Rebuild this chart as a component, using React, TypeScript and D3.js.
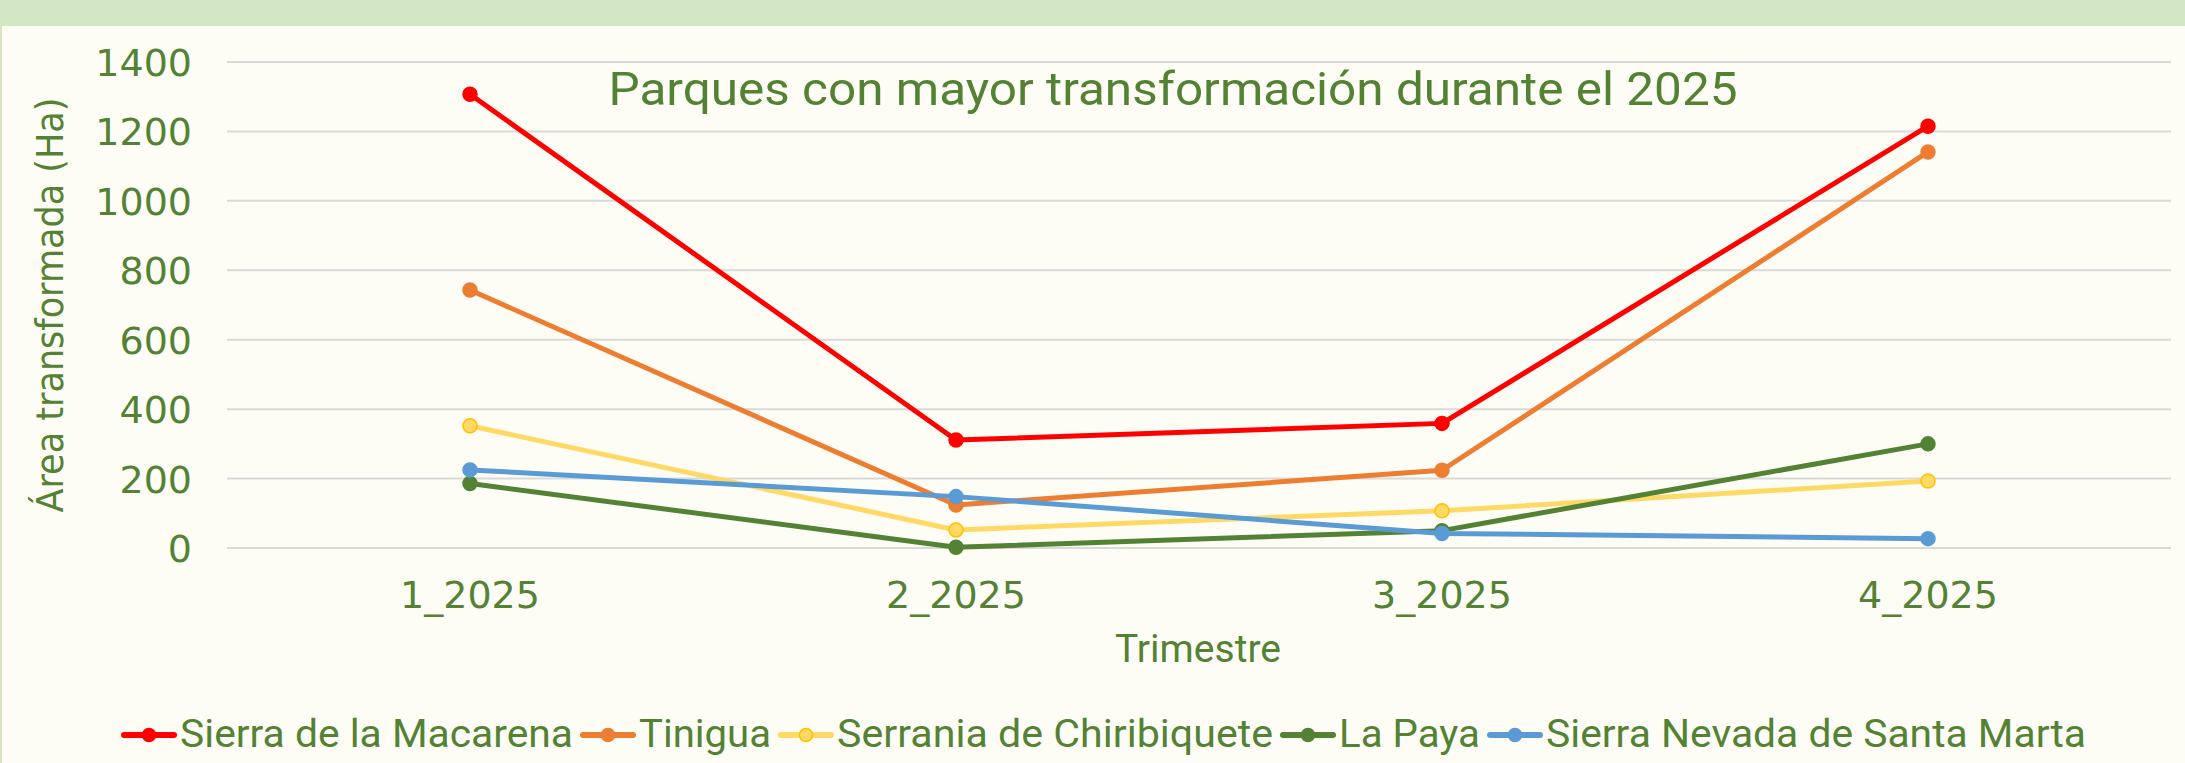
import React from "react";
import * as d3 from "d3";

const categories = ["1_2025", "2_2025", "3_2025", "4_2025"];
const seriesNames = [
  "Sierra de la Macarena",
  "Tinigua",
  "Serrania de Chiribiquete",
  "La Paya",
  "Sierra Nevada de Santa Marta",
];
const macarena = [1307, 311, 359, 1215];
const tinigua = [743, 124, 224, 1141];
const chiribiquete = [352, 52, 107, 193];
const laPaya = [186, 2, 50, 300];
const santaMarta = [225, 148, 42, 27];
const yTicks = [0, 200, 400, 600, 800, 1000, 1200, 1400];

const seriesValues = [macarena, tinigua, chiribiquete, laPaya, santaMarta];
const lineColors = ["#FF0000", "#ED7D31", "#FFD966", "#548235", "#5B9BD5"];
const markerStroke = ["#FF0000", "#ED7D31", "#FFC000", "#548235", "#5B9BD5"];
const legendTextWidths = [393, 132, 436, 141, 540];

const W = 2185;
const H = 763;
const GREEN = "#548235";
const BG = "#FDFDF5";
const BAND = "#D3E6C4";

export default function App() {
  const x = d3.scaleBand<string>().domain(categories).range([227, 2171]);
  const y = d3.scaleLinear().domain([0, 1400]).range([548, 62]);
  const cx = (c: string) => (x(c) as number) + x.bandwidth() / 2;
  const line = d3
    .line<number>()
    .x((_, i) => cx(categories[i]))
    .y((v) => y(v));

  // legend layout
  const legendItems: { x: number; w: number }[] = [];
  let lx = 121;
  legendTextWidths.forEach((w) => {
    legendItems.push({ x: lx, w });
    lx = lx + 59 + w + 7;
  });

  return (
    <>
      <style>{`body{margin:0;}`}</style>
      <svg width={W} height={H} style={{ display: "block" }}>
        <rect x={0} y={0} width={W} height={H} fill={BG} />
        <rect x={0} y={0} width={W} height={26} fill={BAND} />
        <rect x={0} y={0} width={2} height={H} fill={BAND} />

        {yTicks.map((t) => (
          <g key={t}>
            <line x1={227} x2={2171} y1={y(t)} y2={y(t)} stroke="#D9D9D9" strokeWidth={2} />
            <text
              x={192}
              y={y(t) + 14}
              textAnchor="end"
              fontFamily="DejaVu Sans"
              fontSize={38}
              fill={GREEN}
            >
              {t}
            </text>
          </g>
        ))}

        {categories.map((c) => (
          <text
            key={c}
            x={cx(c)}
            y={608}
            textAnchor="middle"
            fontFamily="DejaVu Sans"
            fontSize={38}
            fill={GREEN}
          >
            {c}
          </text>
        ))}

        <text
          x={1173}
          y={105}
          textAnchor="middle"
          fontFamily="Roboto"
          fontSize={47}
          fill={GREEN}
          textLength={1129}
          lengthAdjust="spacingAndGlyphs"
        >
          Parques con mayor transformación durante el 2025
        </text>

        <text
          x={1198}
          y={662}
          textAnchor="middle"
          fontFamily="Roboto"
          fontSize={39}
          fill={GREEN}
          textLength={166}
          lengthAdjust="spacingAndGlyphs"
        >
          Trimestre
        </text>

        <text
          transform={`translate(63,305) rotate(-90)`}
          textAnchor="middle"
          fontFamily="DejaVu Sans"
          fontSize={37}
          fill={GREEN}
          textLength={415}
          lengthAdjust="spacingAndGlyphs"
        >
          Área transformada (Ha)
        </text>

        {seriesValues.map((vals, si) => (
          <g key={seriesNames[si]}>
            <path
              d={line(vals) || ""}
              fill="none"
              stroke={lineColors[si]}
              strokeWidth={5}
              strokeLinejoin="round"
              strokeLinecap="round"
            />
            {vals.map((v, i) => (
              <circle
                key={i}
                cx={cx(categories[i])}
                cy={y(v)}
                r={7}
                fill={lineColors[si]}
                stroke={markerStroke[si]}
                strokeWidth={1.5}
              />
            ))}
          </g>
        ))}

        {legendItems.map((it, si) => (
          <g key={seriesNames[si]}>
            <line
              x1={it.x + 3}
              x2={it.x + 53}
              y1={735}
              y2={735}
              stroke={lineColors[si]}
              strokeWidth={6}
              strokeLinecap="round"
            />
            <circle
              cx={it.x + 28}
              cy={735}
              r={6.5}
              fill={lineColors[si]}
              stroke={markerStroke[si]}
              strokeWidth={1.5}
            />
            <text
              x={it.x + 59}
              y={747}
              fontFamily="Roboto"
              fontSize={39}
              fill={GREEN}
              textLength={it.w}
              lengthAdjust="spacingAndGlyphs"
            >
              {seriesNames[si]}
            </text>
          </g>
        ))}
      </svg>
    </>
  );
}
